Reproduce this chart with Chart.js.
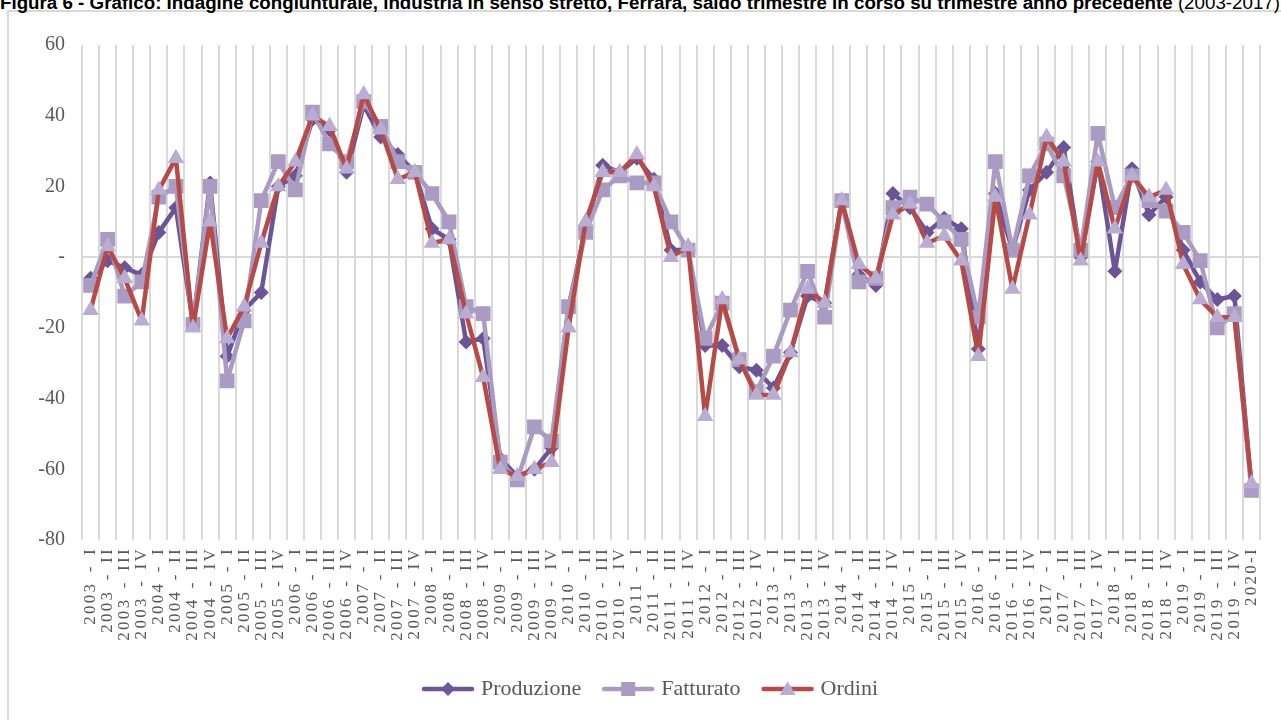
<!DOCTYPE html>
<html>
<head>
<meta charset="utf-8">
<script src="https://cdn.jsdelivr.net/npm/chart.js@4.4.1/dist/chart.umd.min.js"></script>
<style>
  html, body { margin: 0; padding: 0; background: #ffffff; width: 1281px; height: 720px; overflow: hidden; }
  #frame { position: absolute; left: 7px; top: 10px; width: 1300px; height: 800px; border: 2px solid #d9d9d9; box-sizing: border-box; }
  #title { position: absolute; left: 0px; top: -6px; white-space: nowrap; font-family: "Liberation Sans", sans-serif; font-size: 18px; line-height: 18px; color: #000; transform-origin: 0 0; }
  #title b { font-weight: bold; }
  #wrap { position: absolute; left: 0; top: 0; width: 1281px; height: 720px; }
</style>
</head>
<body>
<div id="frame"></div>
<div id="title"><b>Figura 6 - Grafico: Indagine congiunturale, industria in senso stretto, Ferrara, saldo trimestre in corso su trimestre anno precedente</b> (2003-2017)</div>
<div id="wrap"><canvas id="c" width="1281" height="720"></canvas></div>
<script>
const categories = [
  "2003 - I","2003 - II","2003 - III","2003 - IV",
  "2004 - I","2004 - II","2004 - III","2004 - IV",
  "2005 - I","2005 - II","2005 - III","2005 - IV",
  "2006 - I","2006 - II","2006 - III","2006 - IV",
  "2007 - I","2007 - II","2007 - III","2007 - IV",
  "2008 - I","2008 - II","2008 - III","2008 - IV",
  "2009 - I","2009 - II","2009 - III","2009 - IV",
  "2010 - I","2010 - II","2010 - III","2010 - IV",
  "2011 - I","2011 - II","2011 - III","2011 - IV",
  "2012 - I","2012 - II","2012 - III","2012 - IV",
  "2013 - I","2013 - II","2013 - III","2013 - IV",
  "2014 - I","2014 - II","2014 - III","2014 - IV",
  "2015 - I","2015 - II","2015 - III","2015 - IV",
  "2016 - I","2016 - II","2016 - III","2016 - IV",
  "2017 - I","2017 - II","2017 - III","2017 - IV",
  "2018 - I","2018 - II","2018 - III","2018 - IV",
  "2019 - I","2019 - II","2019 - III","2019 - IV",
  "2020-I"
];
const produzione = [
  -6, -1, -3, -5, 7, 14, -19, 21, -28, -15, -10, 20,
  23, 39, 36, 24, 43, 34, 29, 24, 8, 5, -24, -23,
  -57, -62, -60, -54, -14, 8, 26, 24, 28, 22, 2, 2,
  -25, -25, -31, -32, -37, -27, -11, -13, 16, -5, -8, 18,
  14, 7, 11, 8, -26, 18, 2, 19, 24, 31, 0, 27,
  -4, 25, 12, 17, 2, -7, -12, -11, -65
];
const fatturato = [
  -8, 5, -11, -7, 17, 20, -19, 20, -35, -18, 16, 27,
  19, 41, 32, 27, 44, 37, 27, 24, 18, 10, -14, -16,
  -58, -63, -48, -52, -14, 7, 19, 23, 21, 21, 10, 2,
  -23, -13, -29, -38, -28, -15, -4, -17, 16, -7, -6, 14,
  17, 15, 10, 5, -17, 27, 2, 23, 32, 23, 2, 35,
  14, 23, 16, 13, 7, -1, -20, -16, -66
];
const ordini = [
  -15, 3, -6, -18, 19, 28, -20, 10, -23, -14, 4, 20,
  27, 40, 37, 25, 46, 36, 22, 24, 4, 5, -16, -34,
  -60, -62, -60, -58, -20, 10, 24, 24, 29, 20, 0, 3,
  -45, -12, -29, -39, -39, -27, -9, -13, 16, -2, -6, 12,
  15, 4, 6, -1, -28, 17, -9, 12, 34, 27, -1, 27,
  8, 23, 17, 19, -2, -12, -17, -17, -64
];
const seriesNames = ["Produzione", "Fatturato", "Ordini"];
const yTicks = [60, 40, 20, 0, -20, -40, -60, -80];

// fit title width
(function(){
  const t = document.getElementById('title');
  const w = t.getBoundingClientRect().width;
  t.style.transform = 'scaleX(' + (1280 / w) + ')';
})();

const COL_P = '#6b5597';
const COL_F = '#a99bc2';
const COL_O_LINE = '#b64a47';
const COL_O_PT = '#b9add2';
const GRAY_TXT = '#595959';

class SpacedCategoryScale extends Chart.CategoryScale {
  drawLabels(chartArea) {
    const ctx = this.ctx;
    const pls = ctx.letterSpacing, pws = ctx.wordSpacing;
    ctx.letterSpacing = '2.3px';
    ctx.wordSpacing = '2.8px';
    super.drawLabels(chartArea);
    ctx.letterSpacing = pls || '0px';
    ctx.wordSpacing = pws || '0px';
  }
}
SpacedCategoryScale.id = 'spacedCategory';
SpacedCategoryScale.defaults = Chart.CategoryScale.defaults;
Chart.register(SpacedCategoryScale);

function makeIcon(lineColor, markerColor, shape) {
  const cv = document.createElement('canvas');
  cv.width = 54; cv.height = 20;
  const c = cv.getContext('2d');
  c.strokeStyle = lineColor; c.lineWidth = 4.5; c.lineCap = 'round';
  c.beginPath(); c.moveTo(3, 10); c.lineTo(51, 10); c.stroke();
  c.fillStyle = markerColor;
  c.beginPath();
  if (shape === 'diamond') { c.moveTo(27, 3); c.lineTo(34, 10); c.lineTo(27, 17); c.lineTo(20, 10); }
  else if (shape === 'square') { c.rect(20, 3, 14, 14); }
  else { c.moveTo(27, 2); c.lineTo(35, 16); c.lineTo(19, 16); }
  c.closePath(); c.fill();
  return cv;
}
const icons = [
  makeIcon(COL_P, COL_P, 'diamond'),
  makeIcon(COL_F, COL_F, 'square'),
  makeIcon(COL_O_LINE, COL_O_PT, 'triangle')
];

const serif = "'Liberation Serif', 'Times New Roman', serif";

const legendShift = {
  id: 'legendShift',
  afterLayout(chart) {
    const l = chart.legend;
    if (l) { l.left += 22; l.right += 22; }
  }
};

new Chart(document.getElementById('c'), {
  type: 'line',
  plugins: [legendShift],
  data: {
    labels: categories,
    datasets: [
      { label: seriesNames[0], data: produzione, order: 2,
        borderColor: COL_P, backgroundColor: COL_P, borderWidth: 4.5,
        pointStyle: 'rectRot', pointRadius: 7.5, pointBackgroundColor: COL_P, pointBorderWidth: 0,
        borderJoinStyle: 'round', borderCapStyle: 'round', tension: 0 },
      { label: seriesNames[1], data: fatturato, order: 1,
        borderColor: COL_F, backgroundColor: COL_F, borderWidth: 4.5,
        pointStyle: 'rect', pointRadius: 10.4, pointBackgroundColor: COL_F, pointBorderWidth: 0,
        borderJoinStyle: 'round', borderCapStyle: 'round', tension: 0 },
      { label: seriesNames[2], data: ordini, order: 0,
        borderColor: COL_O_LINE, backgroundColor: COL_O_PT, borderWidth: 4.5,
        pointStyle: 'triangle', pointRadius: 9.5, pointBackgroundColor: COL_O_PT, pointBorderWidth: 0,
        borderJoinStyle: 'round', borderCapStyle: 'round', tension: 0 }
    ]
  },
  options: {
    responsive: false,
    animation: false,
    layout: { padding: { left: 0, right: 21, top: 45, bottom: 10 } },
    plugins: {
      title: { display: false },
      tooltip: { enabled: false },
      legend: {
        position: 'bottom',
        labels: {
          usePointStyle: true,
          pointStyleWidth: 44,
          padding: 25,
          color: GRAY_TXT,
          font: { family: serif, size: 22 },
          sort: (a, b) => a.datasetIndex - b.datasetIndex,
          generateLabels: (chart) => {
            const items = Chart.defaults.plugins.legend.labels.generateLabels(chart);
            items.forEach(it => { it.pointStyle = icons[it.datasetIndex]; });
            return items;
          }
        }
      }
    },
    scales: {
      x: {
        type: 'spacedCategory',
        offset: true,
        grid: { display: true, offset: true, color: '#d9d9d9', lineWidth: 2, drawTicks: false },
        border: { display: false },
        ticks: {
          autoSkip: false, maxRotation: 90, minRotation: 90, padding: 7,
          color: GRAY_TXT, font: { family: serif, size: 17 }
        },
        afterFit: (s) => { s.height = 113; }
      },
      y: {
        min: -80, max: 60,
        afterBuildTicks: (s) => { s.ticks = yTicks.map(v => ({ value: v })); },
        grid: {
          drawTicks: false, lineWidth: 2,
          color: (ctx) => (ctx.tick && ctx.tick.value === 0) ? '#d9d9d9' : 'rgba(0,0,0,0)'
        },
        border: { display: false },
        ticks: {
          padding: 17, color: GRAY_TXT, font: { family: serif, size: 20 },
          callback: (v) => v === 0 ? '-' : String(v)
        },
        afterFit: (s) => { s.width = 82; }
      }
    }
  }
});
</script>
</body>
</html>
